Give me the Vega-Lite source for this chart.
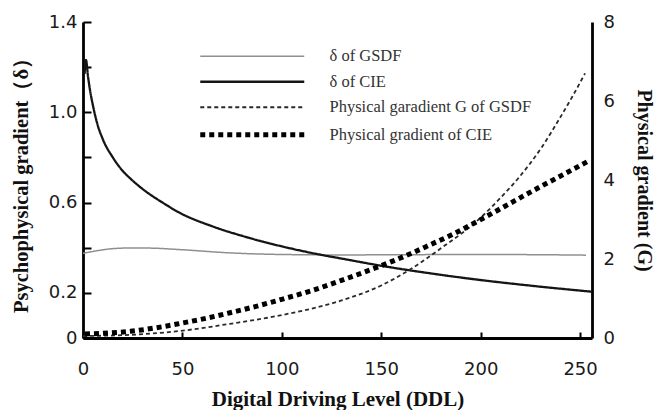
{
  "$schema": "https://vega.github.io/schema/vega-lite/v6.json",
  "width": 509,
  "height": 316,
  "autosize": "none",
  "padding": {"left": 83, "top": 22, "right": 64, "bottom": 72},
  "background": "white",
  "config": {
    "view": {"stroke": null},
    "axis": {
      "grid": true,
      "gridColor": "#000",
      "gridWidth": 2,
      "gridOpacity": 1,
      "ticks": false,
      "tickSize": 0,
      "labelFlush": false,
      "domainColor": "#000",
      "domainWidth": 2.8,
      "labelFont": "DejaVu Sans",
      "labelFontSize": 18,
      "labelColor": "#1a1a1a",
      "titleFont": "Liberation Serif",
      "titleFontWeight": "bold",
      "titleFontSize": 20,
      "titleColor": "#111"
    },
    "legend": {
      "orient": "none",
      "legendX": 161,
      "legendY": 26,
      "padding": 0,
      "symbolType": "M-26,0L26,0",
      "symbolSize": 16,
      "labelFont": "Liberation Serif",
      "labelFontSize": 16.5,
      "labelColor": "#333",
      "labelOffset": 69,
      "rowPadding": 8.5,
      "labelLimit": 400
    }
  },
  "datasets": {
    "delta": [
      {"ddl": 0, "value": 0.375, "series": "δ of GSDF"},
      {"ddl": 8, "value": 0.388, "series": "δ of GSDF"},
      {"ddl": 15, "value": 0.396, "series": "δ of GSDF"},
      {"ddl": 25, "value": 0.399, "series": "δ of GSDF"},
      {"ddl": 35, "value": 0.398, "series": "δ of GSDF"},
      {"ddl": 50, "value": 0.391, "series": "δ of GSDF"},
      {"ddl": 74, "value": 0.377, "series": "δ of GSDF"},
      {"ddl": 100, "value": 0.37, "series": "δ of GSDF"},
      {"ddl": 130, "value": 0.368, "series": "δ of GSDF"},
      {"ddl": 160, "value": 0.369, "series": "δ of GSDF"},
      {"ddl": 200, "value": 0.37, "series": "δ of GSDF"},
      {"ddl": 230, "value": 0.369, "series": "δ of GSDF"},
      {"ddl": 253, "value": 0.367, "series": "δ of GSDF"},
      {"ddl": 0.8, "value": 1.17, "series": "δ of CIE"},
      {"ddl": 1.5, "value": 1.232, "series": "δ of CIE"},
      {"ddl": 2.5, "value": 1.16, "series": "δ of CIE"},
      {"ddl": 3.5, "value": 1.1, "series": "δ of CIE"},
      {"ddl": 5, "value": 1.03, "series": "δ of CIE"},
      {"ddl": 7, "value": 0.955, "series": "δ of CIE"},
      {"ddl": 10, "value": 0.88, "series": "δ of CIE"},
      {"ddl": 15, "value": 0.8, "series": "δ of CIE"},
      {"ddl": 20, "value": 0.74, "series": "δ of CIE"},
      {"ddl": 24, "value": 0.705, "series": "δ of CIE"},
      {"ddl": 30, "value": 0.66, "series": "δ of CIE"},
      {"ddl": 40, "value": 0.6, "series": "δ of CIE"},
      {"ddl": 49, "value": 0.553, "series": "δ of CIE"},
      {"ddl": 65, "value": 0.495, "series": "δ of CIE"},
      {"ddl": 83, "value": 0.445, "series": "δ of CIE"},
      {"ddl": 100, "value": 0.406, "series": "δ of CIE"},
      {"ddl": 120, "value": 0.368, "series": "δ of CIE"},
      {"ddl": 130, "value": 0.352, "series": "δ of CIE"},
      {"ddl": 152, "value": 0.317, "series": "δ of CIE"},
      {"ddl": 175, "value": 0.286, "series": "δ of CIE"},
      {"ddl": 197, "value": 0.26, "series": "δ of CIE"},
      {"ddl": 225, "value": 0.232, "series": "δ of CIE"},
      {"ddl": 256, "value": 0.205, "series": "δ of CIE"}
    ],
    "phys": [
      {"ddl": 0, "value": 0.05, "series": "Physical garadient G of GSDF"},
      {"ddl": 24, "value": 0.08, "series": "Physical garadient G of GSDF"},
      {"ddl": 49, "value": 0.18, "series": "Physical garadient G of GSDF"},
      {"ddl": 74, "value": 0.36, "series": "Physical garadient G of GSDF"},
      {"ddl": 100, "value": 0.58, "series": "Physical garadient G of GSDF"},
      {"ddl": 130, "value": 0.95, "series": "Physical garadient G of GSDF"},
      {"ddl": 150, "value": 1.33, "series": "Physical garadient G of GSDF"},
      {"ddl": 164, "value": 1.72, "series": "Physical garadient G of GSDF"},
      {"ddl": 180, "value": 2.27, "series": "Physical garadient G of GSDF"},
      {"ddl": 199, "value": 3.0, "series": "Physical garadient G of GSDF"},
      {"ddl": 210, "value": 3.55, "series": "Physical garadient G of GSDF"},
      {"ddl": 219, "value": 4.05, "series": "Physical garadient G of GSDF"},
      {"ddl": 231, "value": 4.85, "series": "Physical garadient G of GSDF"},
      {"ddl": 239, "value": 5.5, "series": "Physical garadient G of GSDF"},
      {"ddl": 246, "value": 6.1, "series": "Physical garadient G of GSDF"},
      {"ddl": 252.5, "value": 6.7, "series": "Physical garadient G of GSDF"},
      {"ddl": 1, "value": 0.1, "series": "Physical gradient of CIE"},
      {"ddl": 10, "value": 0.12, "series": "Physical gradient of CIE"},
      {"ddl": 24, "value": 0.17, "series": "Physical gradient of CIE"},
      {"ddl": 37, "value": 0.26, "series": "Physical gradient of CIE"},
      {"ddl": 49, "value": 0.37, "series": "Physical gradient of CIE"},
      {"ddl": 62, "value": 0.5, "series": "Physical gradient of CIE"},
      {"ddl": 74, "value": 0.64, "series": "Physical gradient of CIE"},
      {"ddl": 87, "value": 0.8, "series": "Physical gradient of CIE"},
      {"ddl": 100, "value": 0.98, "series": "Physical gradient of CIE"},
      {"ddl": 115, "value": 1.2, "series": "Physical gradient of CIE"},
      {"ddl": 130, "value": 1.46, "series": "Physical gradient of CIE"},
      {"ddl": 151, "value": 1.85, "series": "Physical gradient of CIE"},
      {"ddl": 165, "value": 2.14, "series": "Physical gradient of CIE"},
      {"ddl": 175, "value": 2.37, "series": "Physical gradient of CIE"},
      {"ddl": 187, "value": 2.65, "series": "Physical gradient of CIE"},
      {"ddl": 199, "value": 2.97, "series": "Physical gradient of CIE"},
      {"ddl": 212, "value": 3.33, "series": "Physical gradient of CIE"},
      {"ddl": 226, "value": 3.72, "series": "Physical gradient of CIE"},
      {"ddl": 239, "value": 4.07, "series": "Physical gradient of CIE"},
      {"ddl": 255, "value": 4.5, "series": "Physical gradient of CIE"}
    ]
  },
  "encoding": {
    "x": {
      "field": "ddl",
      "type": "quantitative",
      "scale": {"domain": [0, 256], "nice": false, "zero": false},
      "axis": {
        "values": [0, 50, 100, 150, 200, 250],
        "gridDash": [0, 310, 6, 2000],
        "title": "Digital Driving Level (DDL)",
        "titleFontSize": 21,
        "labelPadding": 22,
        "titlePadding": 10
      }
    },
    "color": {
      "field": "series",
      "type": "nominal",
      "scale": {
        "domain": ["δ of GSDF", "δ of CIE", "Physical garadient G of GSDF", "Physical gradient of CIE"],
        "range": ["#8f8f8f", "#151515", "#2a2a2a", "#000000"]
      },
      "legend": {"title": null}
    },
    "strokeDash": {
      "field": "series",
      "type": "nominal",
      "scale": {
        "type": "ordinal",
        "domain": ["δ of GSDF", "δ of CIE", "Physical garadient G of GSDF", "Physical gradient of CIE"],
        "range": [[1, 0], [1, 0], [4, 3], [5, 4]]
      },
      "legend": {"title": null}
    },
    "strokeWidth": {
      "field": "series",
      "type": "nominal",
      "scale": {
        "type": "ordinal",
        "domain": ["δ of GSDF", "δ of CIE", "Physical garadient G of GSDF", "Physical gradient of CIE"],
        "range": [1.5, 2.3, 1.8, 5]
      },
      "legend": {"title": null}
    }
  },
  "layer": [
    {
      "data": {"name": "delta"},
      "mark": {"type": "line", "interpolate": "monotone"},
      "encoding": {
        "y": {
          "field": "value",
          "type": "quantitative",
          "scale": {"domain": [0, 1.4], "nice": false},
          "axis": {
            "orient": "left",
            "values": [0, 0.2, 0.4, 0.6, 0.8, 1.0, 1.2, 1.4],
            "gridDash": [8, 2000],
            "labelExpr": "datum.value == 0 ? '0' : (abs((datum.value * 10) % 4 - 2) < 0.01 ? format(datum.value, '.1f') : '')",
            "title": "Psychophysical gradient（δ）",
            "titleFontSize": 20.5,
            "labelPadding": 6,
            "titlePadding": 17
          }
        }
      }
    },
    {
      "data": {"name": "phys"},
      "mark": {"type": "line", "interpolate": "monotone"},
      "encoding": {
        "y": {
          "field": "value",
          "type": "quantitative",
          "scale": {"domain": [0, 8], "nice": false},
          "axis": {
            "orient": "right",
            "values": [0, 1, 2, 3, 4, 5, 6, 7, 8],
            "gridDash": [6, 2000],
            "labelExpr": "datum.value % 2 == 0 ? format(datum.value, 'd') : ''",
            "title": "Physical gradient (G)",
            "labelPadding": 11,
            "titlePadding": 19
          }
        }
      }
    }
  ],
  "resolve": {"scale": {"y": "independent"}}
}
